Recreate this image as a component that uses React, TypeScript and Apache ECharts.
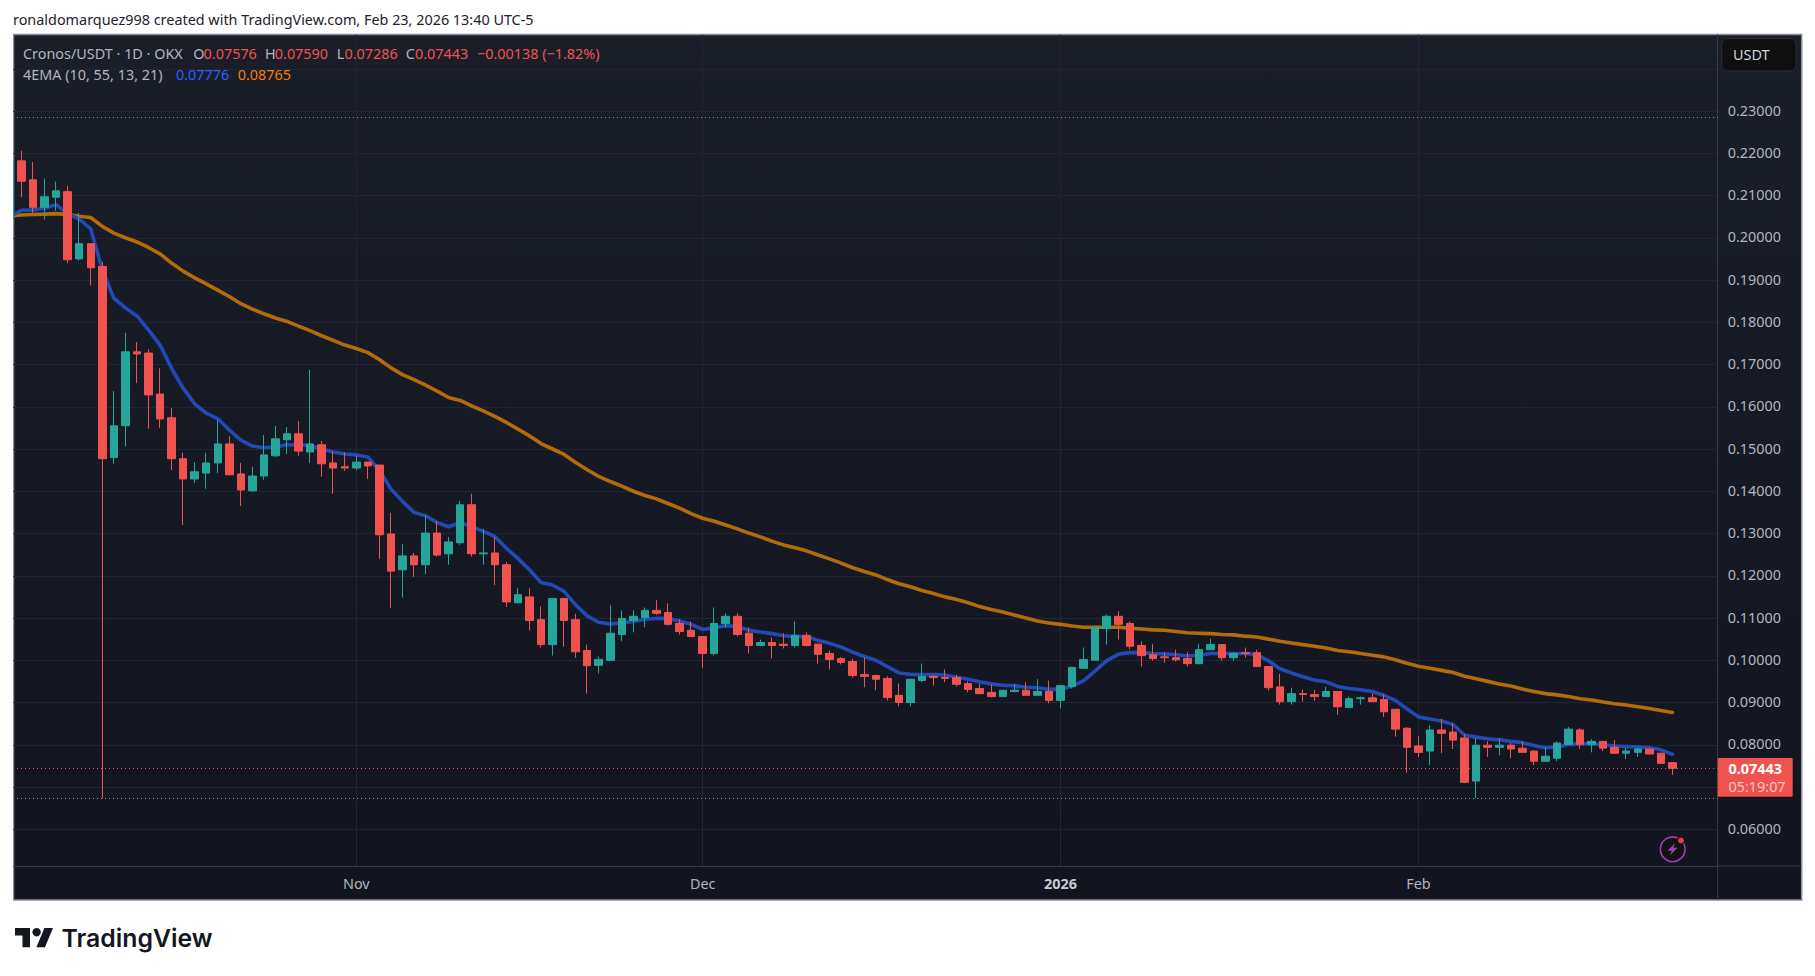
import React, { useEffect, useRef } from "react";
import * as echarts from "echarts";

// Daily candles from 2 Oct 2025 to 23 Feb 2026, one line per month
const firstDay = "2025-10-02";
const opens = [
  .2044,.2182,.2137,.2072,.2096,.2109,.1950,.1986,.1932,.1480,.1555,.1730,.1727,.1630,.1574,.1477,.1429,.1443,.1467,.1512,.1441,.1401,.1436,.1484,.1522,.1536,.1493,.1510,.1467,.1458,
  .1455,.1469,.1462,.1299,.1214,.1247,.1226,.1301,.1252,.1278,.1368,.1252,.1254,.1226,.1136,.1150,.1096,.1037,.1146,.1096,.1023,.0988,.1000,.1061,.1094,.1101,.1118,.1113,.1087,.1071,
  .1056,.1016,.1087,.1104,.1064,.1035,.1042,.1038,.1035,.1059,.1038,.1016,.1004,.0997,.0966,.0964,.0957,.0917,.0900,.0952,.0962,.0959,.0959,.0945,.0933,.0924,.0914,.0926,.0929,.0917,.0926,
  .0905,.0938,.0981,.1000,.1075,.1104,.1087,.1035,.1013,.1008,.1006,.1004,.0992,.1025,.1037,.1006,.1018,.1018,.0985,.0937,.0902,.0921,.0919,.0914,.0926,.0888,.0909,.0911,.0907,.0884,.0839,
  .0797,.0785,.0835,.0830,.0816,.0714,.0799,.0794,.0799,.0792,.0785,.0761,.0768,.0801,.0835,.0801,.0808,.0794,.0780,.0782,.0790,.0780,.07576,
];
const closes = [
  .2182,.2134,.2072,.2097,.2111,.1948,.1986,.1929,.1477,.1555,.1730,.1725,.1628,.1571,.1477,.1429,.1446,.1467,.1512,.1439,.1403,.1436,.1486,.1524,.1536,.1495,.1512,.1465,.1455,.1455,
  .1469,.1460,.1297,.1211,.1247,.1226,.1301,.1249,.1280,.1368,.1252,.1254,.1226,.1138,.1155,.1094,.1037,.1146,.1094,.1020,.0987,.1002,.1064,.1099,.1104,.1118,.1111,.1085,.1068,.1056,
  .1016,.1087,.1104,.1061,.1035,.1042,.1035,.1035,.1059,.1035,.1014,.1002,.0995,.0964,.0962,.0955,.0912,.0900,.0955,.0962,.0959,.0957,.0943,.0931,.0921,.0914,.0929,.0929,.0917,.0926,.0905,
  .0940,.0983,.1002,.1078,.1104,.1085,.1033,.1011,.1004,.1006,.1001,.0992,.1025,.1037,.1006,.1016,.1016,.0985,.0935,.0902,.0921,.0919,.0914,.0926,.0890,.0909,.0911,.0902,.0878,.0837,.0794,
  .0782,.0835,.0827,.0811,.0711,.0799,.0794,.0799,.0790,.0782,.0761,.0773,.0804,.0837,.0801,.0808,.0792,.0780,.0785,.0790,.0778,.0756,.07443,
];
const lows = [
  .2044,.2096,.2059,.2043,.2064,.1940,.1946,.1887,.0673,.1465,.1506,.1656,.1548,.1550,.1450,.1320,.1420,.1406,.1443,.1439,.1365,.1398,.1427,.1481,.1488,.1484,.1467,.1434,.1394,.1448,
  .1450,.1429,.1240,.1124,.1148,.1197,.1204,.1245,.1226,.1273,.1245,.1226,.1178,.1126,.1136,.1070,.1030,.1011,.1032,.1006,.0921,.0969,.1000,.1045,.1066,.1078,.1108,.1082,.1061,.1056,
  .0981,.1011,.1078,.1056,.1016,.1033,.1004,.1028,.1030,.1033,.0992,.0978,.0990,.0959,.0936,.0929,.0905,.0891,.0891,.0948,.0940,.0948,.0938,.0924,.0921,.0912,.0914,.0924,.0917,.0917,.0898,
  .0886,.0933,.0981,.1000,.1037,.1049,.1026,.0985,.0999,.0994,.0997,.0985,.0990,.1025,.0999,.0999,.1006,.0985,.0928,.0895,.0895,.0902,.0904,.0914,.0871,.0888,.0895,.0902,.0866,.0819,.0734,
  .0771,.0752,.0780,.0790,.0709,.0674,.0771,.0775,.0768,.0780,.0752,.0759,.0761,.0801,.0790,.0782,.0785,.0778,.0766,.0771,.0778,.0754,.07286,
];
const highs = [
  .2182,.2206,.2179,.2140,.2133,.2123,.2059,.1986,.1943,.1637,.1775,.1753,.1736,.1691,.1597,.1491,.1469,.1491,.1569,.1531,.1467,.1458,.1533,.1555,.1552,.1566,.1687,.1519,.1495,.1493,
  .1484,.1469,.1462,.1349,.1275,.1254,.1344,.1330,.1292,.1377,.1394,.1311,.1292,.1233,.1171,.1171,.1127,.1148,.1148,.1110,.1037,.1009,.1130,.1118,.1118,.1125,.1142,.1135,.1097,.1092,
  .1056,.1125,.1111,.1111,.1078,.1049,.1054,.1064,.1092,.1066,.1040,.1023,.1007,.1004,.1007,.0966,.0962,.0945,.0955,.0992,.0964,.0978,.0966,.0950,.0945,.0943,.0929,.0943,.0948,.0955,.0952,
  .0940,.0985,.1030,.1080,.1108,.1116,.1092,.1045,.1039,.1018,.1025,.1020,.1039,.1051,.1037,.1020,.1030,.1025,.0985,.0968,.0935,.0930,.0930,.0937,.0926,.0914,.0914,.0921,.0919,.0884,.0842,
  .0820,.0846,.0861,.0851,.0825,.0816,.0808,.0816,.0804,.0808,.0787,.0794,.0808,.0842,.0839,.0813,.0808,.0811,.0792,.0794,.0790,.0780,.07590,
];
const ema10 = [
  .2050,.2065,.2066,.2070,.2078,.2057,.2044,.2021,.1924,.1857,.1834,.1815,.1782,.1746,.1691,.1644,.1607,.1585,.1572,.1545,.1521,.1507,.1503,.1505,.1510,.1510,.1508,.1500,.1493,.1488,
  .1486,.1481,.1450,.1405,.1376,.1350,.1342,.1326,.1316,.1326,.1316,.1305,.1293,.1265,.1241,.1214,.1184,.1178,.1163,.1131,.1105,.1090,.1086,.1088,.1092,.1097,.1099,.1099,.1093,.1085,
  .1073,.1077,.1082,.1080,.1071,.1067,.1063,.1058,.1056,.1056,.1047,.1040,.1031,.1019,.1009,.1000,.0985,.0970,.0967,.0966,.0966,.0965,.0960,.0955,.0949,.0944,.0941,.0940,.0936,.0935,.0931,
  .0931,.0939,.0952,.0975,.0999,.1014,.1018,.1018,.1016,.1015,.1013,.1010,.1012,.1016,.1016,.1016,.1016,.1013,.0999,.0980,.0970,.0961,.0953,.0949,.0938,.0933,.0930,.0926,.0917,.0905,.0885,
  .0866,.0861,.0856,.0848,.0823,.0818,.0814,.0812,.0808,.0805,.0798,.0793,.0794,.0801,.0802,.0802,.0800,.0797,.0796,.0795,.0793,.0788,.07776,
];
const ema55 = [
  .2052,.2054,.2055,.2056,.2057,.2055,.2051,.2048,.2027,.2011,.2000,.1990,.1977,.1962,.1940,.1921,.1905,.1891,.1876,.1861,.1844,.1831,.1820,.1810,.1802,.1791,.1780,.1768,.1757,.1746,
  .1738,.1728,.1712,.1692,.1676,.1664,.1651,.1637,.1622,.1615,.1602,.1590,.1577,.1563,.1547,.1531,.1513,.1500,.1487,.1468,.1451,.1435,.1423,.1412,.1400,.1390,.1382,.1371,.1360,.1347,
  .1336,.1329,.1320,.1311,.1301,.1292,.1282,.1273,.1266,.1259,.1249,.1240,.1230,.1219,.1210,.1202,.1191,.1181,.1174,.1165,.1158,.1150,.1144,.1136,.1127,.1120,.1114,.1107,.1100,.1093,.1088,
  .1085,.1081,.1078,.1078,.1078,.1078,.1076,.1074,.1072,.1071,.1068,.1065,.1064,.1063,.1061,.1060,.1057,.1055,.1050,.1045,.1041,.1037,.1033,.1029,.1023,.1020,.1016,.1012,.1008,.1001,.0993,
  .0986,.0981,.0976,.0971,.0962,.0956,.0950,.0944,.0939,.0932,.0926,.0921,.0918,.0914,.0909,.0906,.0901,.0897,.0894,.0890,.0886,.0881,.08765,
];
const xTickDates = ["2025-11-01", "2025-12-01", "2026-01-01", "2026-02-01"];
const xTickLabels = ["Nov", "Dec", "2026", "Feb"];
const yGridValues = [.06,.07,.08,.09,.10,.11,.12,.13,.14,.15,.16,.17,.18,.19,.20,.21,.22,.23,.24];
const yLabelValues = [.06,.08,.09,.10,.11,.12,.13,.14,.15,.16,.17,.18,.19,.20,.21,.22,.23];
const highLine = 0.2285;
const lowLine = 0.0673;
const lastPrice = 0.07443;

const DAY = 86400000;
const UP = "#26A69A";
const DOWN = "#F0534F";
const BLUE = "#2249B5";
const ORANGE = "#B26C0A";
const TXT = "#B2B5BE";
const GRID = "#232632";
const FONT = "'Noto Sans', sans-serif";
const FS = 14.4;

const PL = 13, PR = 1717.7, PT = 34.5, PB = 866, OR = 1801.7, OB = 900;
const NOV1_X = 356.3, DAY_PX = 11.545;

const t0 = Date.parse(firstDay + "T00:00:00Z");
const dateOf = (i: number) => t0 + i * DAY;
const nov1 = Date.parse(xTickDates[0] + "T00:00:00Z");
const xMin = nov1 + ((PL - NOV1_X) / DAY_PX) * DAY;
const xMax = nov1 + ((PR - NOV1_X) / DAY_PX) * DAY;
const tickTimes = xTickDates.map((d) => Date.parse(d + "T00:00:00Z"));

echarts.graphic.registerShape(
  "tvlogo",
  echarts.graphic.extendPath("M14 22H7V11H0V4h14v18zM28 22h-8l7.5-18h8L28 22z", {})
);
echarts.graphic.registerShape(
  "bolt",
  echarts.graphic.extendPath("M7 0L0 7.5h4L2.5 12L10 4.5H5.8z", {})
);

const txt = (x: number, y: number, text: string, fill: string, extra: any = {}) => ({
  type: "text",
  x,
  y,
  z: 20,
  silent: true,
  style: { text, fill, font: `${FS}px ${FONT}`, textVerticalAlign: "middle", ...extra },
});

export default function App() {
  const ref = useRef<HTMLDivElement>(null);
  useEffect(() => {
    const chart = echarts.init(ref.current!, undefined, { renderer: "svg" });
    chart.setOption({
      animation: false,
      backgroundColor: "#ffffff",
      grid: { left: PL, right: 1815 - PR, top: PT, bottom: 976 - PB, containLabel: false },
      xAxis: {
        type: "value",
        scale: true,
        min: xMin,
        max: xMax,
        axisLine: { show: true, lineStyle: { color: "#363A45", width: 1 }, onZero: false },
        axisTick: { show: false, customValues: tickTimes },
        splitLine: { show: true, lineStyle: { color: GRID, width: 1 } },
        axisLabel: {
          show: true,
          customValues: tickTimes,
          margin: 10,
          color: TXT,
          fontFamily: FONT,
          fontSize: FS,
          hideOverlap: false,
          formatter: (v: number) => {
            const s = xTickLabels[tickTimes.indexOf(v)] ?? "";
            return s === "2026" ? `{b|${s}}` : s;
          },
          rich: { b: { fontWeight: "bold", color: "#C8CAD2", fontFamily: FONT, fontSize: FS } },
        },
      },
      yAxis: {
        type: "value",
        position: "right",
        scale: true,
        min: 0.2300 - (PB - 111) / 4225,
        max: 0.2300 + (111 - PT) / 4225,
        axisLine: { show: true, lineStyle: { color: "#363A45", width: 1 } },
        axisTick: { show: false, customValues: yGridValues },
        splitLine: { show: true, lineStyle: { color: GRID, width: 1 } },
        axisLabel: {
          customValues: yLabelValues,
          margin: 10,
          color: TXT,
          fontFamily: FONT,
          fontSize: FS,
          align: "left",
          formatter: (v: number) => `{p|${v.toFixed(5)}}`,
          rich: { p: { color: TXT, fontFamily: FONT, fontSize: FS, padding: [0, 0, 2, 0] } },
        },
      },
      series: [
        {
          name: "EMA 55",
          type: "line",
          z: 2,
          data: ema55.map((v, i) => [dateOf(i), v]),
          showSymbol: false,
          symbol: "none",
          silent: true,
          lineStyle: { color: ORANGE, width: 3.6, cap: "round", join: "round" },
        },
        {
          name: "EMA 10",
          type: "line",
          z: 3,
          data: ema10.map((v, i) => [dateOf(i), v]),
          showSymbol: false,
          symbol: "none",
          silent: true,
          lineStyle: { color: BLUE, width: 3.6, cap: "round", join: "round" },
        },
        {
          name: "Cronos/USDT",
          type: "candlestick",
          z: 4,
          barWidth: 8,
          silent: true,
          clip: false,
          data: opens.map((o, i) => [dateOf(i), o, closes[i], lows[i], highs[i]]),
          itemStyle: {
            color: UP,
            color0: DOWN,
            borderColor: UP,
            borderColor0: DOWN,
            borderColorDoji: DOWN,
            borderWidth: 1,
          },
          markLine: {
            silent: true,
            symbol: "none",
            animation: false,
            precision: 5,
            label: { show: false },
            emphasis: { disabled: true },
            data: [
              { yAxis: highLine, lineStyle: { color: "#9598A1", type: [1, 3], width: 1 } },
              { yAxis: lowLine, lineStyle: { color: "#9598A1", type: [1, 3], width: 1 } },
              { yAxis: lastPrice, lineStyle: { color: DOWN, type: [1, 3], width: 1 } },
            ],
          },
        },
      ],
      graphic: {
        elements: [
          {
            type: "rect",
            z: -10,
            silent: true,
            shape: { x: 13.5, y: 34.5, width: OR - 13.5, height: OB - 34.5 },
            style: {
              fill: new echarts.graphic.LinearGradient(0, 0, 0, 1, [
                { offset: 0, color: "#1A1E29" },
                { offset: 1, color: "#12151F" },
              ]),
              stroke: "#8B8E96",
              lineWidth: 1.5,
            },
          },
          { type: "rect", z: 30, silent: true, shape: { x: 0, y: 30, width: 13, height: 875 }, style: { fill: "#FFFFFF" } },
          { type: "line", z: 1, silent: true, shape: { x1: PR, y1: PB, x2: PR, y2: OB }, style: { stroke: "#363A45", lineWidth: 1 } },
          { type: "line", z: 1, silent: true, shape: { x1: PR, y1: PB, x2: OR, y2: PB }, style: { stroke: "#363A45", lineWidth: 1 } },
          txt(13, 19, "ronaldomarquez998 created with TradingView.com, Feb 23, 2026 13:40 UTC-5", "#1E222D"),
          txt(23, 53, "Cronos/USDT · 1D · OKX", TXT),
          txt(193.3, 53, "O", TXT),
          txt(203.6, 53, "0.07576", DOWN),
          txt(265, 53, "H", TXT),
          txt(274.8, 53, "0.07590", DOWN),
          txt(336.8, 53, "L", TXT),
          txt(344.4, 53, "0.07286", DOWN),
          txt(405.7, 53, "C", TXT),
          txt(415, 53, "0.07443", DOWN),
          txt(477, 53, "−0.00138 (−1.82%)", DOWN),
          txt(23, 74, "4EMA (10, 55, 13, 21)", TXT),
          txt(176, 74, "0.07776", "#2962FF"),
          txt(237.7, 74, "0.08765", "#F57C00"),
          {
            type: "rect",
            z: 19,
            silent: true,
            shape: { x: 1721.7, y: 38.5, width: 74.3, height: 32.5, r: 6 },
            style: { fill: "#0F0F0F", stroke: "#2A2E39", lineWidth: 1 },
          },
          txt(1733, 54.7, "USDT", "#D1D4DC"),
          {
            type: "rect",
            z: 19,
            silent: true,
            shape: { x: PR, y: 758, width: 75, height: 38.7, r: 1 },
            style: { fill: DOWN },
          },
          txt(1728.5, 768.5, "0.07443", "#FFFFFF", { font: `bold ${FS}px ${FONT}` }),
          txt(1728.5, 786.6, "05:19:07", "#F5C9C8"),
          {
            type: "circle",
            z: 19,
            silent: true,
            shape: { cx: 1672.7, cy: 849.3, r: 12.3 },
            style: { fill: "#131313", stroke: "#9C3FB0", lineWidth: 1.6 },
          },
          { type: "bolt", z: 20, silent: true, x: 1667.7, y: 843.3, style: { fill: "#9C3FB0" } },
          { type: "circle", z: 21, silent: true, shape: { cx: 1681, cy: 840.5, r: 4.2 }, style: { fill: "#131313" } },
          { type: "circle", z: 22, silent: true, shape: { cx: 1681, cy: 840.5, r: 3 }, style: { fill: "#F23645" } },
          { type: "tvlogo", z: 20, silent: true, x: 15, y: 923.7, scaleX: 1.07, scaleY: 1.07, style: { fill: "#131722" } },
          { type: "circle", z: 20, silent: true, shape: { cx: 36.6, cy: 932.2, r: 4.2 }, style: { fill: "#131722" } },
          txt(61.5, 937.5, "TradingView", "#131722", { font: `600 24.8px Inter, ${FONT}` }),
        ],
      },
    });
    return () => chart.dispose();
  }, []);
  return <div ref={ref} style={{ position: "absolute", left: 0, top: 0, width: 1815, height: 976 }} />;
}
